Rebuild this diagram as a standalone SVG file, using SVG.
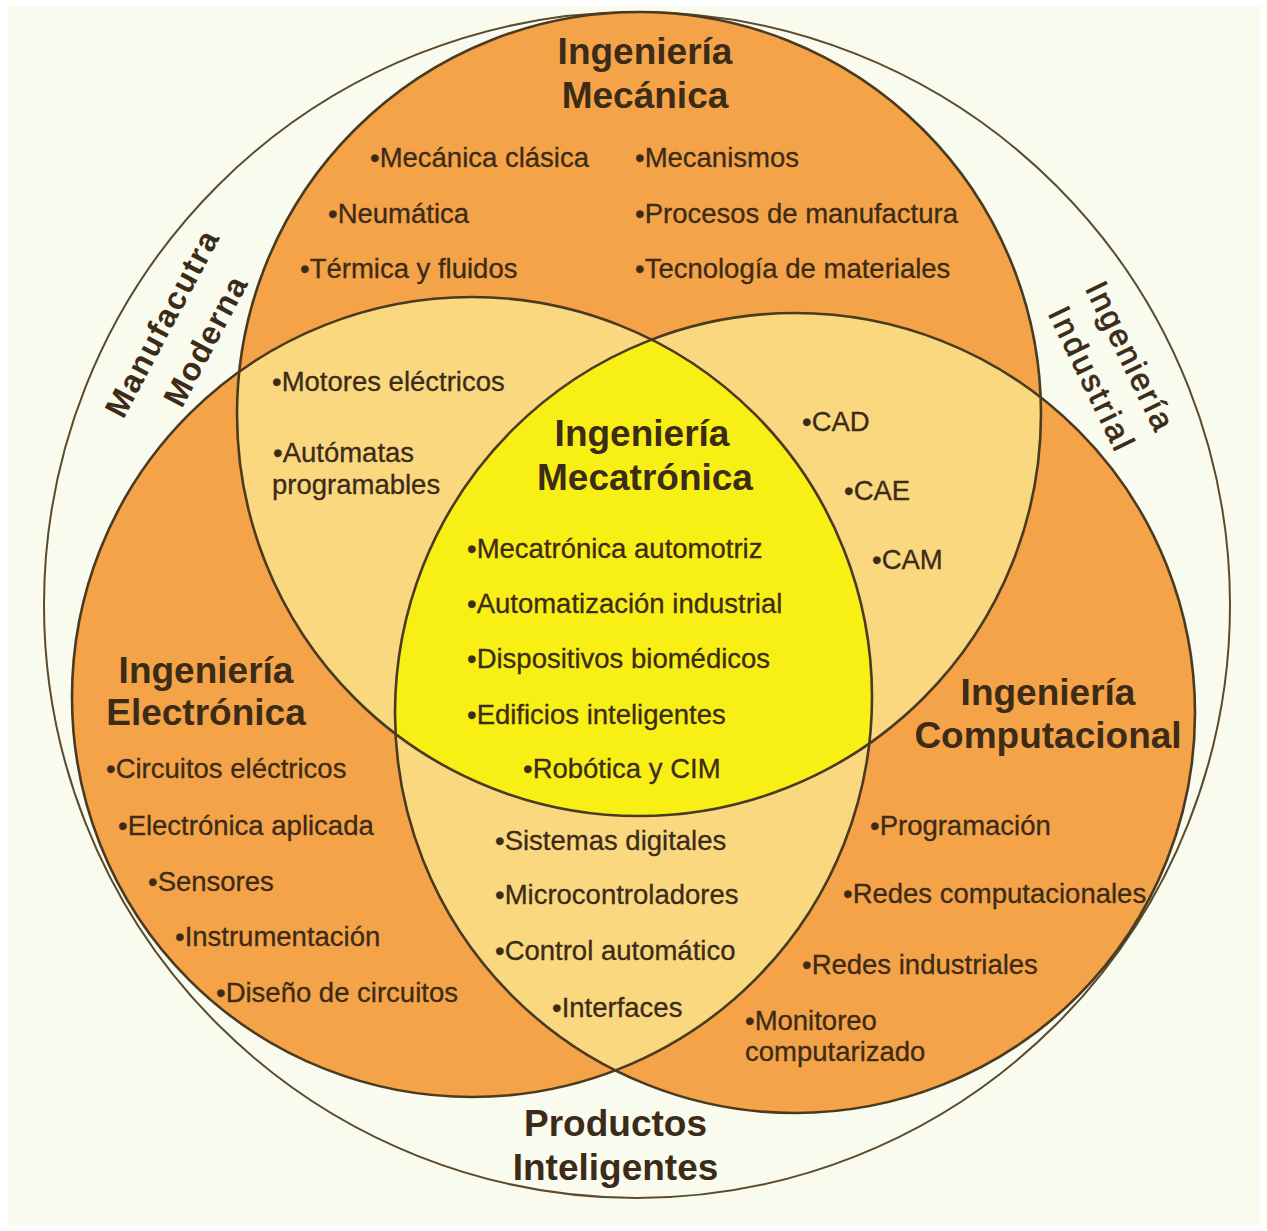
<svg xmlns="http://www.w3.org/2000/svg" width="1267" height="1231" viewBox="0 0 1267 1231">
<style>
.t{font-family:"Liberation Sans",Arial,Helvetica,sans-serif;fill:#3b2b17}
.h{font-size:37px;font-weight:bold;text-anchor:middle}
.i{font-size:27.5px;stroke:#3b2b17;stroke-width:0.3}
.r{font-size:32px;text-anchor:middle}
.rb{font-weight:bold}
.rm{stroke:#3b2b17;stroke-width:0.8}
.ln{fill:none;stroke:#4a3a20;stroke-width:2.6}
.orange{fill:#f5a348}
.light{fill:#f9d880}
.yel{fill:#f8f014}
</style>
<defs>
<clipPath id="cT"><circle cx="639" cy="414" r="402"/></clipPath>
<clipPath id="cL"><circle cx="472" cy="697" r="400"/></clipPath>
</defs>
<rect x="0" y="0" width="1267" height="1231" fill="#ffffff"/>
<rect x="8" y="6" width="1252" height="1219" fill="#f8fbee"/>
<g id="outer-ring">
<circle cx="637" cy="605" r="593" fill="#f8fbee" stroke="#5c4a2c" stroke-width="2"/>
</g>
<g id="regions">
<circle class="orange" cx="639" cy="414" r="402"/>
<circle class="orange" cx="472" cy="697" r="400"/>
<circle class="orange" cx="795" cy="713" r="400"/>
<g clip-path="url(#cT)">
<circle class="light" cx="472" cy="697" r="400"/>
<circle class="light" cx="795" cy="713" r="400"/>
</g>
<g clip-path="url(#cL)">
<circle class="light" cx="795" cy="713" r="400"/>
</g>
<g clip-path="url(#cT)"><g clip-path="url(#cL)">
<circle class="yel" cx="795" cy="713" r="400"/>
</g></g>
</g>
<g id="outlines">
<circle class="ln" cx="639" cy="414" r="402"/>
<circle class="ln" cx="472" cy="697" r="400"/>
<circle class="ln" cx="795" cy="713" r="400"/>
</g>
<g id="node-mecanica" class="t">
<text class="h" x="645" y="64">Ingeniería</text>
<text class="h" x="645" y="108">Mecánica</text>
<text class="i" x="370" y="167">•Mecánica clásica</text>
<text class="i" x="328" y="223">•Neumática</text>
<text class="i" x="300" y="278">•Térmica y fluidos</text>
<text class="i" x="635" y="167">•Mecanismos</text>
<text class="i" x="635" y="223">•Procesos de manufactura</text>
<text class="i" x="635" y="278">•Tecnología de materiales</text>
</g>
<g id="node-mecanica-electronica" class="t">
<text class="i" x="272" y="391">•Motores eléctricos</text>
<text class="i" x="273" y="462">•Autómatas</text>
<text class="i" x="272" y="494">programables</text>
</g>
<g id="node-mecanica-computacional" class="t">
<text class="i" x="802" y="431">•CAD</text>
<text class="i" x="844" y="500">•CAE</text>
<text class="i" x="872" y="569">•CAM</text>
</g>
<g id="node-mecatronica" class="t">
<text class="h" x="642" y="446">Ingeniería</text>
<text class="h" x="645" y="490">Mecatrónica</text>
<text class="i" x="467" y="558">•Mecatrónica automotriz</text>
<text class="i" x="467" y="613">•Automatización industrial</text>
<text class="i" x="467" y="668">•Dispositivos biomédicos</text>
<text class="i" x="467" y="724">•Edificios inteligentes</text>
<text class="i" x="523" y="778">•Robótica y CIM</text>
</g>
<g id="node-electronica" class="t">
<text class="h" x="206" y="683">Ingeniería</text>
<text class="h" x="206" y="725">Electrónica</text>
<text class="i" x="106" y="778">•Circuitos eléctricos</text>
<text class="i" x="118" y="835">•Electrónica aplicada</text>
<text class="i" x="148" y="891">•Sensores</text>
<text class="i" x="175" y="946">•Instrumentación</text>
<text class="i" x="216" y="1002">•Diseño de circuitos</text>
</g>
<g id="node-electronica-computacional" class="t">
<text class="i" x="495" y="850">•Sistemas digitales</text>
<text class="i" x="495" y="904">•Microcontroladores</text>
<text class="i" x="495" y="960">•Control automático</text>
<text class="i" x="552" y="1017">•Interfaces</text>
</g>
<g id="node-computacional" class="t">
<text class="h" x="1048" y="705">Ingeniería</text>
<text class="h" x="1048" y="748">Computacional</text>
<text class="i" x="870" y="835">•Programación</text>
<text class="i" x="843" y="903">•Redes computacionales</text>
<text class="i" x="802" y="974">•Redes industriales</text>
<text class="i" x="745" y="1030">•Monitoreo</text>
<text class="i" x="745" y="1061">computarizado</text>
</g>
<g id="node-manufactura" class="t">
<text class="r rb" transform="translate(171.5,329) rotate(-62)" textLength="206" lengthAdjust="spacing">Manufacutra</text>
<text class="r rb" transform="translate(215,346.5) rotate(-62)" textLength="142" lengthAdjust="spacing">Moderna</text>
</g>
<g id="node-industrial" class="t">
<text class="r rm" transform="translate(1120,360.5) rotate(64)" textLength="161" lengthAdjust="spacing">Ingeniería</text>
<text class="r rm" transform="translate(1081.5,383) rotate(64)" textLength="155" lengthAdjust="spacing">Industrial</text>
</g>
<g id="node-productos" class="t">
<text class="h" x="615.5" y="1136">Productos</text>
<text class="h" x="615.5" y="1180">Inteligentes</text>
</g>
</svg>
